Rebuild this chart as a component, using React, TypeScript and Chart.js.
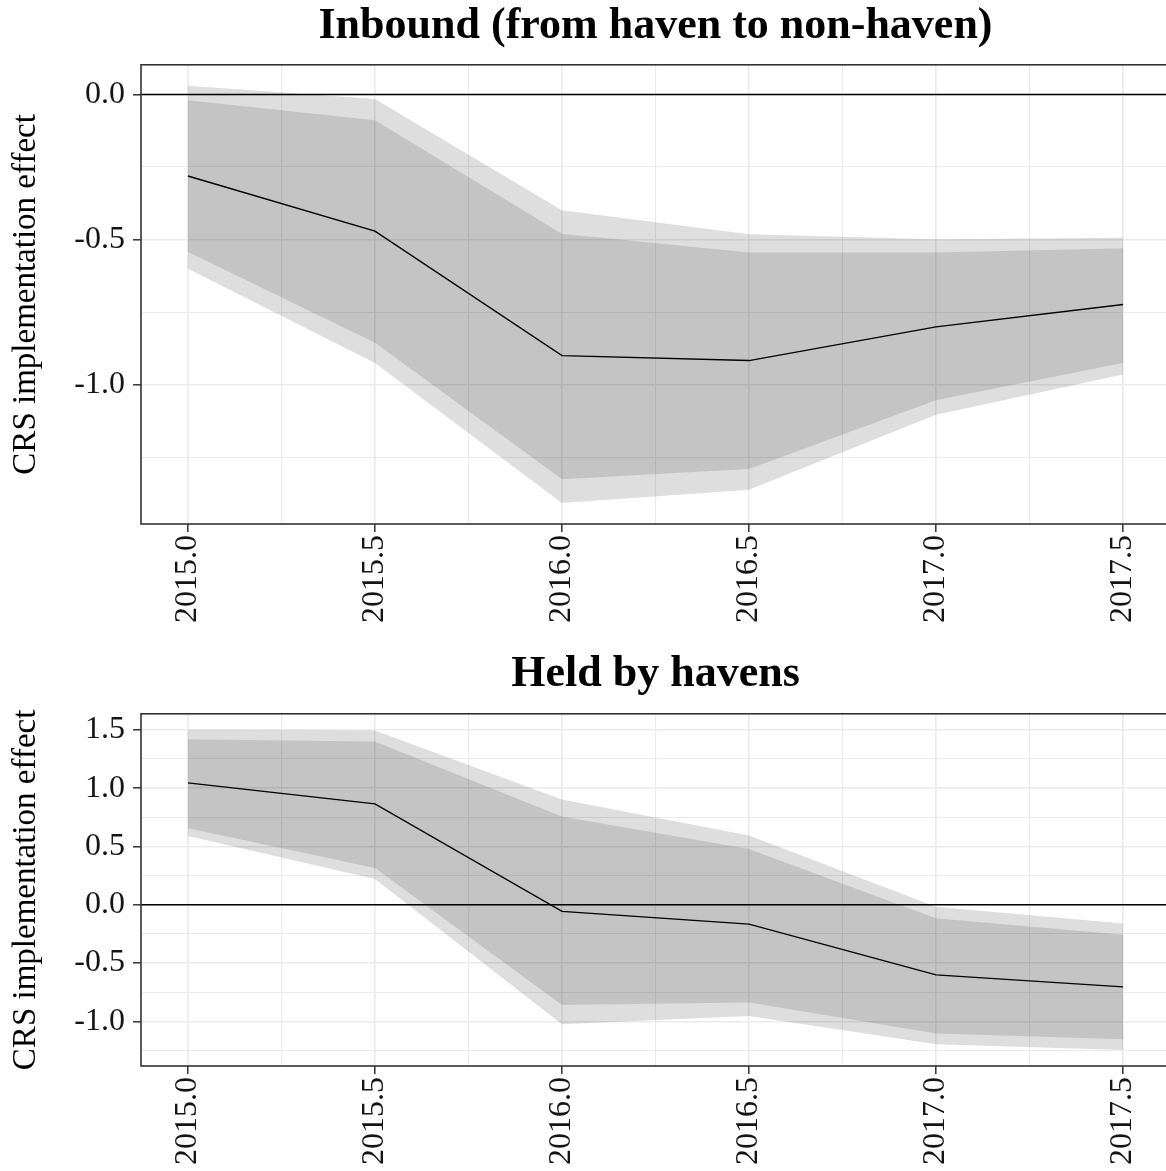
import React, { useEffect, useRef } from 'react';
import { Chart, registerables } from 'chart.js';

Chart.register(...registerables);

// Event-time grid (years)
const YEARS = [2015.0, 2015.5, 2016.0, 2016.5, 2017.0, 2017.5];

// Inbound (from haven to non-haven)
const INBOUND_EFFECT = [-0.281, -0.471, -0.900, -0.917, -0.801, -0.724];
const INBOUND_CI90_UPPER = [-0.020, -0.089, -0.480, -0.545, -0.545, -0.530];
const INBOUND_CI90_LOWER = [-0.543, -0.856, -1.326, -1.291, -1.054, -0.925];
const INBOUND_CI95_UPPER = [0.030, -0.016, -0.399, -0.482, -0.499, -0.494];
const INBOUND_CI95_LOWER = [-0.601, -0.925, -1.408, -1.362, -1.104, -0.965];

// Held by havens
const HELD_EFFECT = [1.045, 0.865, -0.057, -0.166, -0.601, -0.704];
const HELD_CI90_UPPER = [1.420, 1.400, 0.756, 0.478, -0.115, -0.258];
const HELD_CI90_LOWER = [0.656, 0.315, -0.859, -0.839, -1.105, -1.154];
const HELD_CI95_UPPER = [1.500, 1.494, 0.902, 0.593, -0.017, -0.160];
const HELD_CI95_LOWER = [0.590, 0.220, -1.025, -0.953, -1.197, -1.245];

const PANEL_TITLES = ['Inbound (from haven to non-haven)', 'Held by havens'];
const Y_TITLE = 'CRS implementation effect';
const ZERO_LINE = 0;

const FONT = '"Liberation Serif", "Times New Roman", serif';
const CANVAS_W = 1171;
const Y_AXIS_W = 141;
const STEP = 0.25;
// ggplot-like 5% expansion (kept just off a whole number of steps so the tick grid stays on 0.25 multiples)
const EXPAND = 0.0502;

const INNER_FILL = 'rgba(0,0,0,0.117)';
const OUTER_FILL = 'rgba(0,0,0,0.13)';
const TICK_TEXT = '#141414';

const isMajor = (v: number) => Math.abs(v * 2 - Math.round(v * 2)) < 1e-6;

function expanded(values: number[]) {
  const lo = Math.min(...values);
  const hi = Math.max(...values);
  const pad = (hi - lo) * EXPAND;
  return { min: lo - pad, max: hi + pad };
}

const toPoints = (ys: number[]) => YEARS.map((x, i) => ({ x, y: ys[i] }));

const panelDecor = {
  id: 'panelDecor',
  afterDatasetsDraw(chart: any) {
    const { ctx, chartArea, scales } = chart;
    const y = scales.y.getPixelForValue(ZERO_LINE);
    ctx.save();
    ctx.strokeStyle = '#000000';
    ctx.lineWidth = 1.5;
    ctx.beginPath();
    ctx.moveTo(chartArea.left, y);
    ctx.lineTo(chartArea.right, y);
    ctx.stroke();
    ctx.restore();
  },
  afterDraw(chart: any) {
    const { ctx, chartArea } = chart;
    ctx.save();
    ctx.strokeStyle = '#333333';
    ctx.lineWidth = 1.6;
    ctx.strokeRect(chartArea.left, chartArea.top, chartArea.right - chartArea.left, chartArea.bottom - chartArea.top);
    ctx.restore();
  },
};

type PanelProps = {
  top: number;
  height: number;
  title: string;
  titlePadTop: number;
  titlePadBottom: number;
  xAxisH: number;
  effect: number[];
  innerUpper: number[];
  innerLower: number[];
  outerUpper: number[];
  outerLower: number[];
};

function Panel(p: PanelProps) {
  const ref = useRef<HTMLCanvasElement>(null);

  useEffect(() => {
    const yLim = expanded([...p.outerUpper, ...p.outerLower]);
    const xLim = expanded(YEARS);
    const tickFont = { family: FONT, size: 32 };
    const gridWidth = (c: any) => (c.tick && isMajor(c.tick.value) ? 1.6 : 1.1);
    const tickColor = (c: any) => (c.tick && isMajor(c.tick.value) ? '#333333' : 'rgba(0,0,0,0)');
    const label = (v: any) => (isMajor(Number(v)) ? Number(v).toFixed(1) : '');

    const chart = new Chart(ref.current as HTMLCanvasElement, {
      type: 'line',
      data: {
        datasets: [
          {
            label: 'effect',
            data: toPoints(p.effect),
            borderColor: '#000000',
            borderWidth: 1.4,
            pointRadius: 0,
            fill: false,
          },
          {
            label: '90% upper',
            data: toPoints(p.innerUpper),
            borderColor: 'rgba(0,0,0,0)',
            backgroundColor: INNER_FILL,
            pointRadius: 0,
            fill: '+1',
          },
          {
            label: '90% lower',
            data: toPoints(p.innerLower),
            borderColor: 'rgba(0,0,0,0)',
            pointRadius: 0,
            fill: false,
          },
          {
            label: '95% upper',
            data: toPoints(p.outerUpper),
            borderColor: 'rgba(0,0,0,0)',
            backgroundColor: OUTER_FILL,
            pointRadius: 0,
            fill: '+1',
          },
          {
            label: '95% lower',
            data: toPoints(p.outerLower),
            borderColor: 'rgba(0,0,0,0)',
            pointRadius: 0,
            fill: false,
          },
        ],
      } as any,
      options: {
        animation: false,
        responsive: false,
        devicePixelRatio: 1,
        layout: { padding: { left: 0, right: 1, top: 0, bottom: 0 } },
        elements: { line: { tension: 0 } },
        plugins: {
          legend: { display: false },
          tooltip: { enabled: false },
          title: {
            display: true,
            text: p.title,
            fullSize: false,
            color: '#000000',
            font: { family: FONT, size: 44, weight: 'bold' },
            padding: { top: p.titlePadTop, bottom: p.titlePadBottom },
          },
        },
        scales: {
          x: {
            type: 'linear',
            min: xLim.min,
            max: xLim.max,
            bounds: 'ticks',
            border: { display: false },
            grid: {
              color: '#ebebeb',
              lineWidth: gridWidth,
              tickLength: 8,
              tickWidth: 1.5,
              tickColor,
            },
            ticks: {
              stepSize: STEP,
              includeBounds: false,
              autoSkip: false,
              minRotation: 90,
              maxRotation: 90,
              padding: 3,
              color: TICK_TEXT,
              font: tickFont,
              callback: label,
            },
            afterFit: (s: any) => {
              s.height = p.xAxisH;
            },
          },
          y: {
            type: 'linear',
            min: yLim.min,
            max: yLim.max,
            bounds: 'ticks',
            border: { display: false },
            grid: {
              color: '#ebebeb',
              lineWidth: gridWidth,
              tickLength: 8,
              tickWidth: 1.5,
              tickColor,
            },
            ticks: {
              stepSize: STEP,
              includeBounds: false,
              autoSkip: false,
              padding: 8,
              color: TICK_TEXT,
              font: tickFont,
              callback: label,
            },
            title: {
              display: true,
              text: Y_TITLE,
              color: '#000000',
              font: { family: FONT, size: 33 },
              padding: { top: 7, bottom: 0 },
            },
            afterFit: (s: any) => {
              s.width = Y_AXIS_W;
            },
          },
        },
      } as any,
      plugins: [panelDecor],
    });
    return () => chart.destroy();
  }, []);

  return (
    <canvas
      ref={ref}
      width={CANVAS_W}
      height={p.height}
      style={{ position: 'absolute', left: 0, top: p.top, width: CANVAS_W, height: p.height }}
    />
  );
}

export default function App() {
  return (
    <div
      style={{
        position: 'absolute',
        left: 0,
        top: 0,
        width: 1166,
        height: 1171,
        overflow: 'hidden',
        background: '#ffffff',
      }}
    >
      <Panel
        top={0}
        height={640}
        title={PANEL_TITLES[0]}
        titlePadTop={0}
        titlePadBottom={12}
        xAxisH={116}
        effect={INBOUND_EFFECT}
        innerUpper={INBOUND_CI90_UPPER}
        innerLower={INBOUND_CI90_LOWER}
        outerUpper={INBOUND_CI95_UPPER}
        outerLower={INBOUND_CI95_LOWER}
      />
      <Panel
        top={640}
        height={531}
        title={PANEL_TITLES[1]}
        titlePadTop={8}
        titlePadBottom={13}
        xAxisH={105}
        effect={HELD_EFFECT}
        innerUpper={HELD_CI90_UPPER}
        innerLower={HELD_CI90_LOWER}
        outerUpper={HELD_CI95_UPPER}
        outerLower={HELD_CI95_LOWER}
      />
    </div>
  );
}
